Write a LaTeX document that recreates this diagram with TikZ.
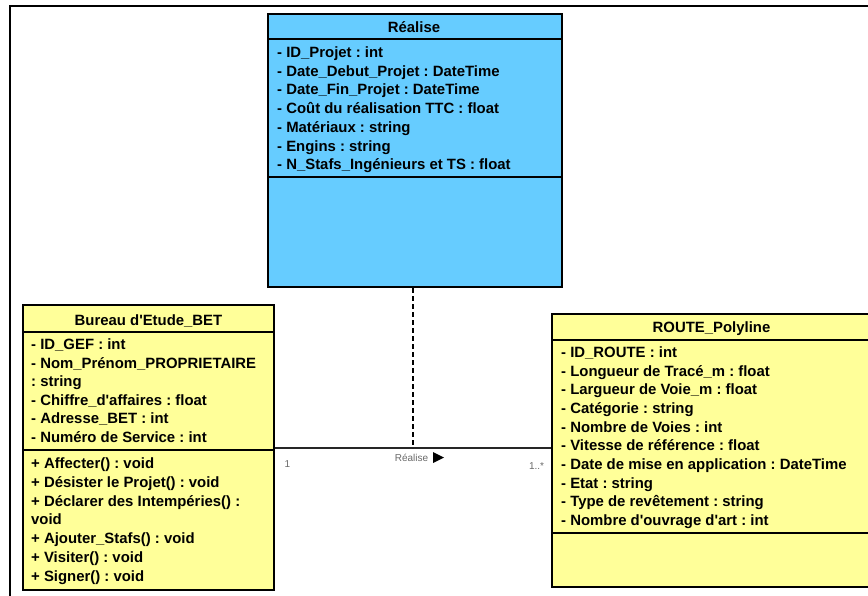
\documentclass[tikz,border=0pt]{standalone}
\usepackage{fontspec}
\setmainfont{Liberation Sans}
\definecolor{umlblue}{RGB}{102,204,255}
\definecolor{umlyellow}{RGB}{255,255,153}
\definecolor{labgray}{RGB}{105,105,105}
\newcommand{\aq}{\textquotesingle}
\begin{document}
\frenchspacing
\begin{tikzpicture}[x=1pt,y=-1pt,
  classbox/.style={draw=black, line width=2pt, inner sep=0pt},
  sepline/.style={line width=1.3pt},
  attr/.style={anchor=base west, inner sep=0pt, font=\fontsize{14.9}{18}\selectfont\bfseries},
  ctitle/.style={anchor=base, inner sep=0pt, font=\fontsize{14.9}{18}\selectfont\bfseries},
  small/.style={anchor=base, inner sep=0pt, text=labgray, font=\fontsize{10}{12}\selectfont}]
\useasboundingbox (0,0) rectangle (868,595);
\clip (0,0) rectangle (868,595);
% frame
\coordinate (ftl) at (10,6);
\coordinate (ftr) at (875,6);
\coordinate (fbl) at (10,600);
\draw[line width=2.6pt] (fbl) -- (ftl) -- (ftr);

% Realise class
\node[classbox, fill=umlblue, minimum width=294pt, minimum height=273pt] (real) at (415,150.5) {};
\draw[sepline] (real.west |- 0,39) -- (real.east |- 0,39);
\draw[sepline] (real.west |- 0,177) -- (real.east |- 0,177);
\node[ctitle] (realt) at (414,32.5) {Réalise};
\foreach \t [count=\i] in {{- ID\_Projet : int},{- Date\_Debut\_Projet : DateTime},{- Date\_Fin\_Projet : DateTime},{- Coût du réalisation TTC : float},{- Matériaux : string},{- Engins : string},{- N\_Stafs\_Ingénieurs et TS : float}}
  \node[attr] (ra\i) at (277,{57.5+(\i-1)*18.7}) {\t};

% BET class
\node[classbox, fill=umlyellow, minimum width=251pt, minimum height=285pt] (bet) at (148.5,447.5) {};
\draw[sepline] (bet.west |- 0,332) -- (bet.east |- 0,332);
\draw[sepline] (bet.west |- 0,450) -- (bet.east |- 0,450);
\node[ctitle] (bett) at (148.5,325.5) {Bureau d\aq Etude\_BET};
\foreach \t [count=\i] in {{- ID\_GEF : int},{- Nom\_Prénom\_PROPRIETAIRE},{: string},{- Chiffre\_d\aq affaires : float},{- Adresse\_BET : int},{- Numéro de Service : int}}
  \node[attr] (ba\i) at (31,{349.5+(\i-1)*18.6}) {\t};
\foreach \t [count=\i] in {{+ Affecter() : void},{+ Désister le Projet() : void},{+ Déclarer des Intempéries() :},{void},{+ Ajouter\_Stafs() : void},{+ Visiter() : void},{+ Signer() : void}}
  \node[attr] (bo\i) at (31,{468.5+(\i-1)*18.8}) {\t};

% ROUTE class
\node[classbox, fill=umlyellow, minimum width=318pt, minimum height=273pt] (route) at (711,450.5) {};
\draw[sepline] (route.west |- 0,340) -- (route.east |- 0,340);
\draw[sepline] (route.west |- 0,533) -- (route.east |- 0,533);
\node[ctitle] (routet) at (711.5,332.5) {ROUTE\_Polyline};
\foreach \t [count=\i] in {{- ID\_ROUTE : int},{- Longueur de Tracé\_m : float},{- Largueur de Voie\_m : float},{- Catégorie : string},{- Nombre de Voies : int},{- Vitesse de référence : float},{- Date de mise en application : DateTime},{- Etat : string},{- Type de revêtement : string},{- Nombre d\aq ouvrage d\aq art : int}}
  \node[attr] (ro\i) at (561,{357.5+(\i-1)*18.68}) {\t};

% association
\coordinate (betp) at (bet.east |- 0,448);
\coordinate (routep) at (route.west |- 0,448);
\draw[line width=1.2pt, draw=black!85] (betp) -- (routep);
\coordinate (mid) at (413,448);
\draw[line width=1.5pt, dash pattern=on 5pt off 3pt] (real.south -| mid) -- (mid);
\node[small] (asl) at (411.5,461.5) {Réalise};
\fill (433,452) -- (433,463) -- (444,457.5) -- cycle;
\node[small] (m1) at (287.5,467) {1};
\node[small] (m2) at (536.5,469) {1..*};
\end{tikzpicture}
\end{document}
